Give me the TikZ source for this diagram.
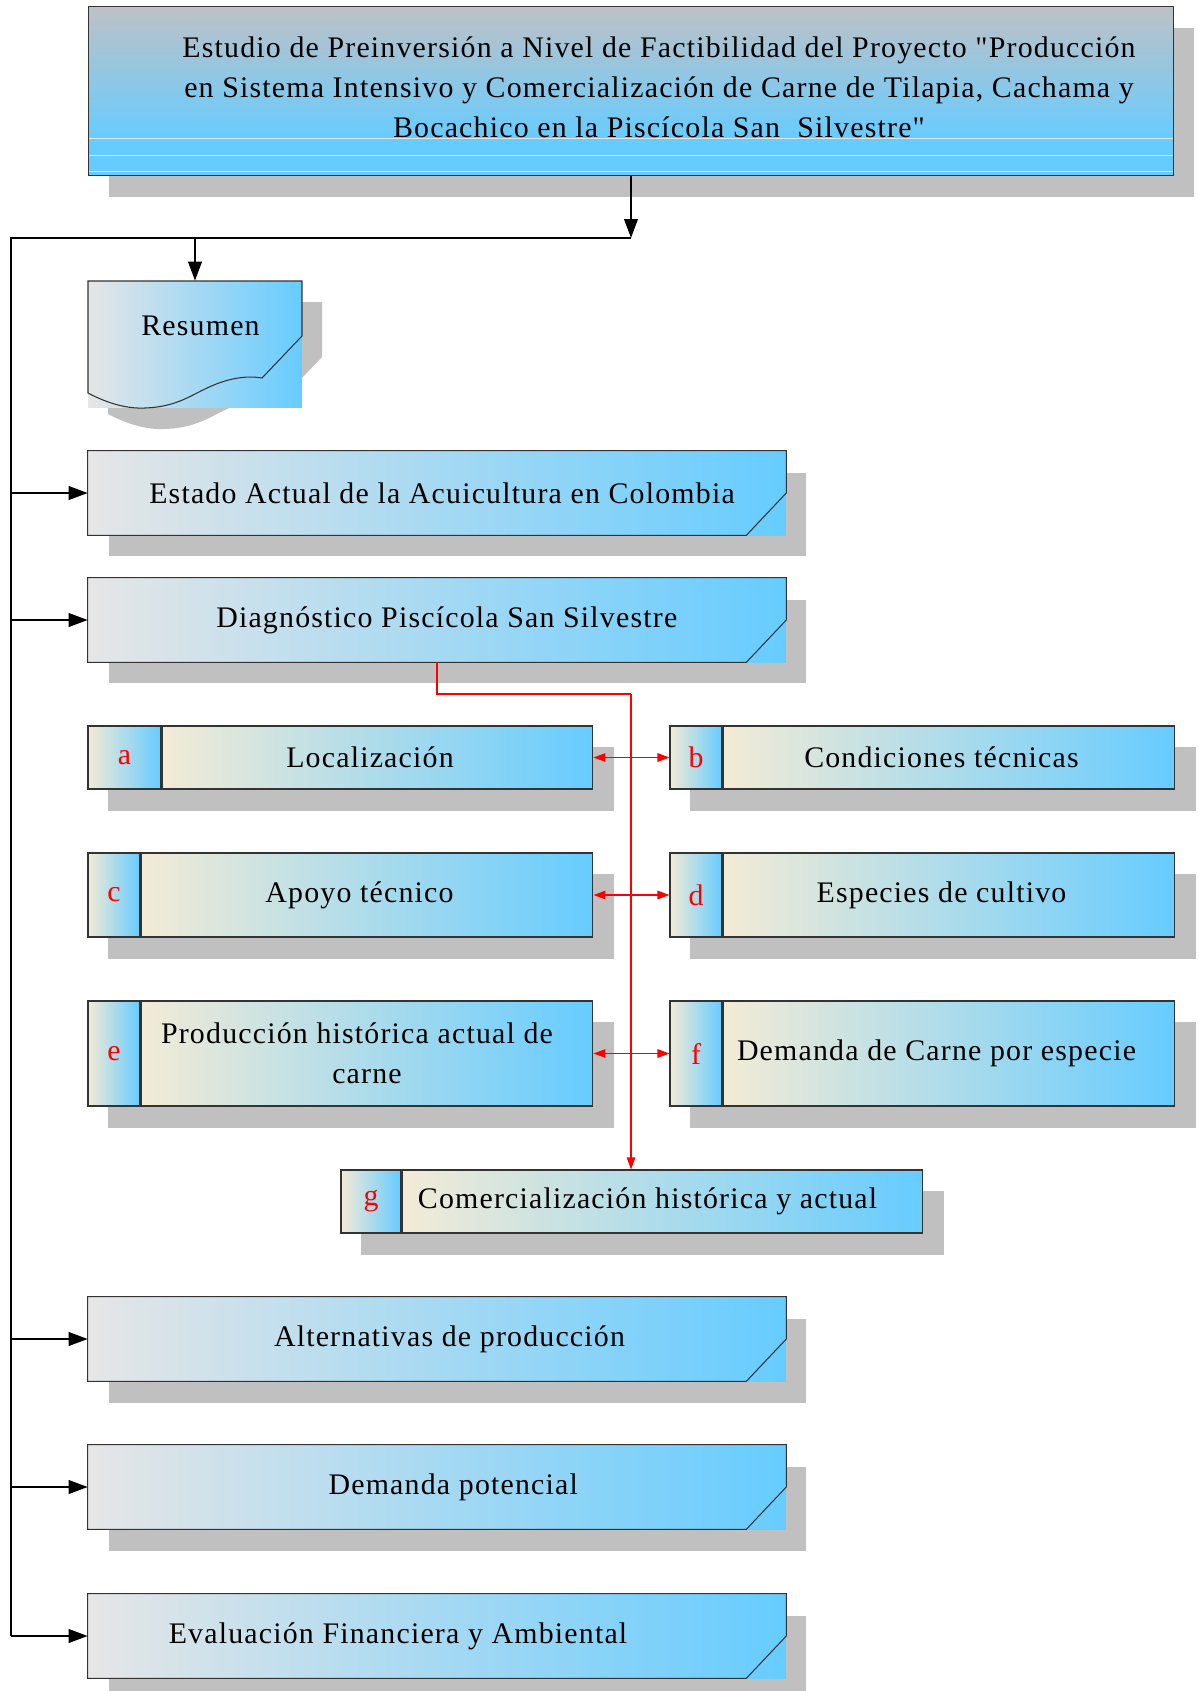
\documentclass[tikz,border=0pt]{standalone}
\usepackage{fontspec}
\setmainfont{Liberation Serif}[LetterSpace=4,Ligatures=TeXOff]
\usetikzlibrary{arrows.meta,shadows,positioning,backgrounds}

\definecolor{sh_gray}{RGB}{192,192,192}
\definecolor{bx_gray}{RGB}{230,230,230}
\definecolor{bx_mid}{RGB}{182,220,238}
\definecolor{bx_blue}{RGB}{102,204,255}
\definecolor{bx_beige}{RGB}{243,235,214}
\definecolor{bx_line}{RGB}{51,51,51}
\definecolor{tl_gray}{RGB}{190,193,198}
\pgfdeclareverticalshading{titleshade}{100bp}{color(0bp)=(bx_blue); color(35bp)=(bx_blue); color(75bp)=(tl_gray); color(100bp)=(tl_gray)}

% outline of the Resumen sheet (pixel units)
\newcommand{\resumenoutline}{(88,281) -- (302,281) -- (302,336) -- (262,378)
  .. controls (245,375) and (225,379) .. (205,389)
  .. controls (190,396) and (175,407) .. (145,408)
  .. controls (125,409) and (105,402) .. (88,393) -- cycle}

\begin{document}
\begin{tikzpicture}[x=0.02cm,y=-0.02cm,
    boxfont/.style={font=\fontsize{17}{22.7}\selectfont},
    shadowbox/.style={general shadow={fill=sh_gray,shadow xshift=0.41cm,shadow yshift=-0.43cm}},
    widebox/.style={shadowbox,left color=bx_gray,middle color=bx_mid,right color=bx_blue,minimum width=13.96cm,minimum height=1.68cm,inner sep=0pt,boxfont},
    tagbox/.style={draw=bx_line,line width=0.6pt,left color=bx_beige,right color=bx_blue,inner sep=0pt,text=red,boxfont},
    itembox/.style={draw=bx_line,line width=0.6pt,left color=bx_beige,right color=bx_blue,inner sep=0pt,boxfont,align=center},
    cutline/.style={draw=bx_line,line width=0.6pt},
    trunk/.style={line width=1.3pt},
    blackhead/.style={-{Triangle[length=0.38cm,width=0.27cm]}},
    redline/.style={red,line width=0.7pt},
    redhead/.style={-{Triangle[length=0.24cm,width=0.17cm]}}]
    \useasboundingbox (0,0) rectangle (1199,1691);

    % title
    \node (title) [shadowbox,shading=titleshade,draw=bx_line,line width=0.6pt,minimum width=21.72cm,minimum height=3.39cm] at (631,91) {};
    \draw[white!78!gray,line width=0.5pt] (89,138) -- (1173,138);
    \draw[white!78!gray,line width=0.5pt] (89,155) -- (1173,155);
    \draw[white!78!gray,line width=0.5pt] (89,171) -- (1173,171);
    \node (titletext) [boxfont,align=center] at (659,87) {Estudio de Preinversión a Nivel de Factibilidad del Proyecto "Producción\\ en Sistema Intensivo y Comercialización de Carne de Tilapia, Cachama y\\ Bocachico en la Piscícola San\ \ Silvestre"};

    % Resumen sheet
    \fill[sh_gray,shift={(20,21)}] \resumenoutline;
    \node (resumen) [left color=bx_gray,middle color=bx_mid,right color=bx_blue,minimum width=4.28cm,minimum height=2.54cm,inner sep=0pt,boxfont,text height=0.45cm,text depth=0.8cm] at (195,344.5) {\hspace*{0.22cm}Resumen};
    \draw[cutline] \resumenoutline;

    % main chapters
    \node (estado) [widebox] at (437,493) {\hspace*{0.2cm}Estado Actual de la Acuicultura en Colombia};
    \node (diag) [widebox] at (437,620) {\hspace*{0.39cm}Diagnóstico Piscícola San Silvestre};
    \node (alt) [widebox] at (437,1339) {\hspace*{0.5cm}Alternativas de producción};
    \node (dempot) [widebox] at (437,1487) {\hspace*{0.65cm}Demanda potencial};
    \node (evalfa) [widebox] at (437,1636) {Evaluación Financiera y Ambiental\hspace*{1.56cm}};
    \foreach \n in {estado,diag,alt,dempot,evalfa}
        \draw[cutline] (\n.north west) -- (\n.north east) -- (\n.east) -- ([xshift=-0.8cm]\n.south east) -- (\n.south west) -- cycle;

    % diagnostic items
    \node (taga) [tagbox,minimum width=1.46cm,minimum height=1.26cm] at (124.5,757.5) {a};
    \node (loc) [itembox,minimum width=8.62cm,minimum height=1.26cm,right=0pt of taga] {Localización\hspace*{0.3cm}};
    \node (tagb) [tagbox,minimum width=1.04cm,minimum height=1.26cm] at (696,757.5) {b};
    \node (cond) [itembox,minimum width=9.04cm,minimum height=1.26cm,right=0pt of tagb] {Condiciones técnicas\hspace*{0.3cm}};
    \node (tagc) [tagbox,minimum width=1.04cm,minimum height=1.68cm] at (114,895) {c};
    \node (apoyo) [itembox,minimum width=9.04cm,minimum height=1.68cm,right=0pt of tagc] {Apoyo técnico\hspace*{0.3cm}};
    \node (tagd) [tagbox,minimum width=1.04cm,minimum height=1.68cm] at (696,895) {d};
    \node (esp) [itembox,minimum width=9.04cm,minimum height=1.68cm,right=0pt of tagd] {Especies de cultivo\hspace*{0.3cm}};
    \node (tage) [tagbox,minimum width=1.04cm,minimum height=2.1cm] at (114,1053.5) {e};
    \node (prod) [itembox,minimum width=9.04cm,minimum height=2.1cm,right=0pt of tage] {Producción histórica actual de\hspace*{0.4cm}\\ carne};
    \node (tagf) [tagbox,minimum width=1.04cm,minimum height=2.1cm] at (696,1053.5) {f};
    \node (demc) [itembox,minimum width=9.04cm,minimum height=2.1cm,right=0pt of tagf] {Demanda de Carne por especie\hspace*{0.5cm}};
    \node (tagg) [tagbox,minimum width=1.2cm,minimum height=1.26cm] at (371,1201.5) {g};
    \node (com) [itembox,minimum width=10.42cm,minimum height=1.26cm,right=0pt of tagg] {Comercialización histórica y actual\hspace*{0.6cm}};

    % shadows of the item boxes
    \begin{scope}[on background layer]
        \foreach \t/\i in {taga/loc,tagb/cond,tagc/apoyo,tagd/esp,tage/prod,tagf/demc,tagg/com}
            \fill[sh_gray] ([shift={(0.41cm,-0.43cm)}]\t.north west) rectangle ([shift={(0.41cm,-0.43cm)}]\i.south east);
    \end{scope}

    % black connectors
    \coordinate (split) at (631,238);
    \coordinate (corner) at (11,238);
    \draw[trunk,blackhead] (title.south) -- (split);
    \draw[trunk] (split) -- (corner) -- (corner |- evalfa.west);
    \draw[trunk,blackhead] (resumen.north |- split) -- (resumen.north);
    \foreach \n in {estado,diag,alt,dempot,evalfa}
        \draw[trunk,blackhead] (corner |- \n.west) -- (\n.west);

    % red connectors
    \coordinate (bus) at (631,694);
    \draw[redline,line width=1.1pt] (diag.south) |- (bus);
    \draw[redline,redhead] (bus) -- (bus |- com.north);
    \foreach \l/\r in {loc/tagb,apoyo/tagd,prod/tagf} {
        \draw[redline,redhead] (bus |- \l.east) -- (\l.east);
        \draw[redline,redhead] (bus |- \r.west) -- (\r.west);
    }
\end{tikzpicture}
\end{document}
